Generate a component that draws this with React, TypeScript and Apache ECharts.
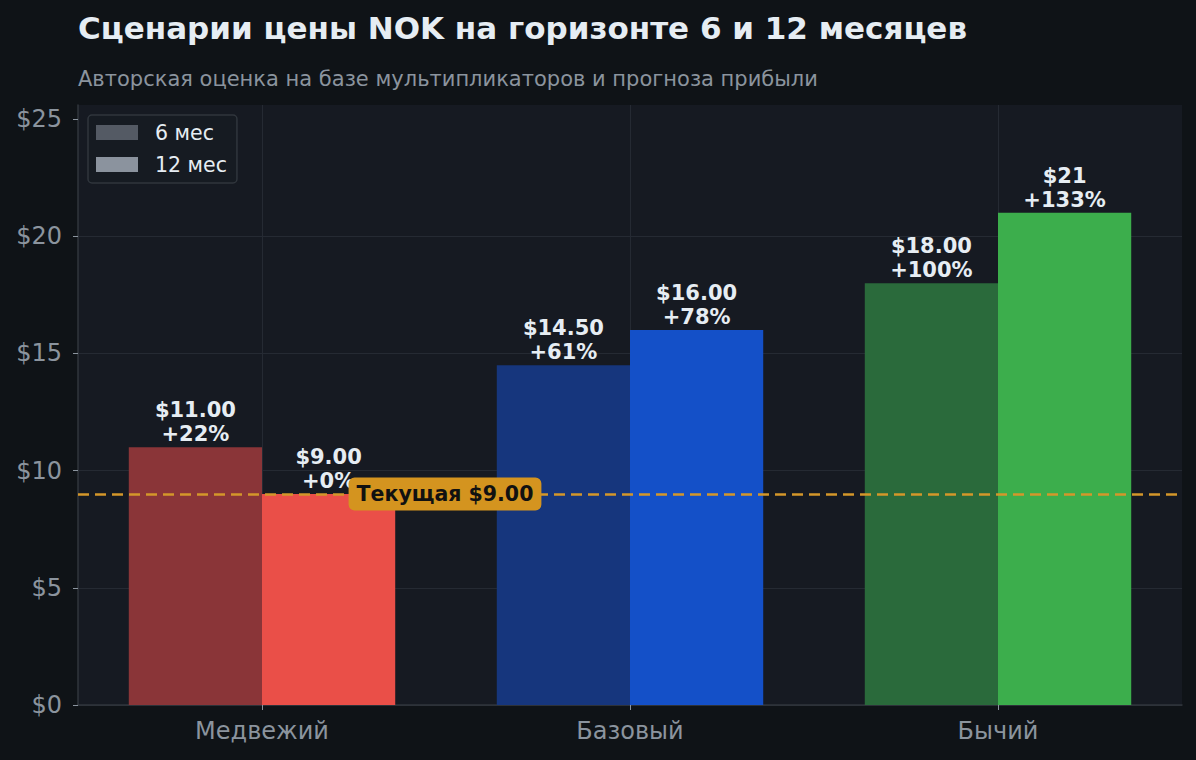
import React, { useEffect, useRef } from "react";
import * as echarts from "echarts";

const categories = ["Медвежий", "Базовый", "Бычий"];
const seriesNames = ["6 мес", "12 мес"];
const values6m = [11.0, 14.5, 18.0];
const values12m = [9.0, 16.0, 21.0];
const priceLabels6m = ["$11.00", "$14.50", "$18.00"];
const priceLabels12m = ["$9.00", "$16.00", "$21"];
const colors6m = ["#8a3538", "#16367d", "#2a6a3b"];
const colors12m = ["#ea4f48", "#1450c8", "#3cae4c"];
const legendColors = ["#545a64", "#8b939e"];
const currentPrice = 9.0;
const currentLabel = "Текущая $9.00";
const yTicks = [0, 5, 10, 15, 20, 25];
const yMax = 25.6;

const title = "Сценарии цены NOK на горизонте 6 и 12 месяцев";
const subtitle = "Авторская оценка на базе мультипликаторов и прогноза прибыли";

const FONT = "DejaVu Sans";

function pct(v: number) {
  const p = Math.round((v / currentPrice - 1) * 100);
  return (p >= 0 ? "+" : "") + p + "%";
}

export default function App() {
  const ref = useRef<HTMLDivElement>(null);
  useEffect(() => {
    document.body.style.margin = "0";
    document.body.style.background = "#0f1317";
    const chart = echarts.init(ref.current!, null, { renderer: "svg" });
    const labelStyle = {
      show: true,
      position: "top" as const,
      distance: 1,
      color: "#e6edf3",
      fontFamily: FONT,
      fontWeight: "bold" as const,
      fontSize: 21,
      lineHeight: 24,
    };
    chart.setOption({
      animation: false,
      backgroundColor: "#0f1317",
      textStyle: { fontFamily: FONT },
      title: [
        {
          text: title,
          left: 78,
          top: 12,
          padding: 0,
          textStyle: { color: "#e6edf3", fontSize: 31, fontWeight: "bold", fontFamily: FONT },
        },
        {
          text: subtitle,
          left: 78,
          top: 68,
          padding: 0,
          textStyle: { color: "#8b949e", fontSize: 21, fontWeight: "normal", fontFamily: FONT },
        },
      ],
      legend: {
        left: 88,
        top: 115,
        orient: "vertical",
        itemWidth: 42,
        itemHeight: 15,
        itemGap: 11,
        padding: [7, 10, 8, 8],
        backgroundColor: "#161b22",
        borderColor: "#30363d",
        borderWidth: 1.5,
        borderRadius: 4,
        icon: "rect",
        textStyle: { color: "#e6edf3", fontSize: 20.5, fontFamily: FONT, padding: [0, 0, 0, 12] },
        data: seriesNames,
      },
      grid: {
        left: 78,
        right: 14,
        top: 105,
        bottom: 55,
        show: true,
        backgroundColor: "#161a22",
        borderWidth: 0,
      },
      xAxis: {
        type: "category",
        data: categories,
        axisLine: { lineStyle: { color: "#30363d", width: 1.5 } },
        axisTick: { show: true, alignWithLabel: true, length: 5, lineStyle: { color: "#8b949e" } },
        axisLabel: { color: "#8b949e", fontSize: 24, fontFamily: FONT, margin: 14 },
        splitLine: { show: true, alignWithLabel: true, lineStyle: { color: "#252a33", width: 1 } },
      },
      yAxis: {
        type: "value",
        min: 0,
        max: yMax,
        interval: 5,
        axisLine: { show: true, lineStyle: { color: "#30363d", width: 1.5 } },
        axisTick: { show: true, length: 5, lineStyle: { color: "#8b949e" }, customValues: yTicks },
        axisLabel: {
          color: "#8b949e",
          fontSize: 24,
          fontFamily: FONT,
          margin: 16,
          customValues: yTicks,
          formatter: (v: number) => "$" + v,
        },
        splitLine: { show: true, showMaxLine: false, lineStyle: { color: "#252a33", width: 1 } },
      },
      series: [
        {
          name: seriesNames[0],
          type: "bar",
          barWidth: "36.2%",
          barGap: "0%",
          itemStyle: { color: legendColors[0] },
          data: values6m.map((v, i) => ({ value: v, itemStyle: { color: colors6m[i] } })),
          label: {
            ...labelStyle,
            formatter: (p: any) => priceLabels6m[p.dataIndex] + "\n" + pct(p.value),
          },
          markLine: {
            silent: true,
            symbol: "none",
            z: 5,
            lineStyle: { color: "#d4972a", type: [11, 6], width: 2.5 },
            label: { show: false },
            data: [{ yAxis: currentPrice }],
          },
        },
        {
          name: seriesNames[1],
          type: "bar",
          barWidth: "36.2%",
          barGap: "0%",
          itemStyle: { color: legendColors[1] },
          data: values12m.map((v, i) => ({ value: v, itemStyle: { color: colors12m[i] } })),
          label: {
            ...labelStyle,
            formatter: (p: any) => priceLabels12m[p.dataIndex] + "\n" + pct(p.value),
          },
        },
      ],
    });
    const x0 = chart.convertToPixel({ xAxisIndex: 0 }, categories[0]) as number;
    const x1 = chart.convertToPixel({ xAxisIndex: 0 }, categories[1]) as number;
    const y = chart.convertToPixel({ yAxisIndex: 0 }, currentPrice) as number;
    chart.setOption({
      graphic: [
        {
          type: "text",
          x: (x0 + x1) / 2 - 1,
          y: y,
          z: 100,
          style: {
            text: currentLabel,
            align: "center",
            verticalAlign: "middle",
            fill: "#111111",
            font: `bold 20.5px "${FONT}"`,
            backgroundColor: "#d4941f",
            padding: [6, 8, 6, 8],
            borderRadius: 6,
          },
        },
      ],
    });
    return () => chart.dispose();
  }, []);
  return <div ref={ref} style={{ width: 1196, height: 760 }} />;
}
